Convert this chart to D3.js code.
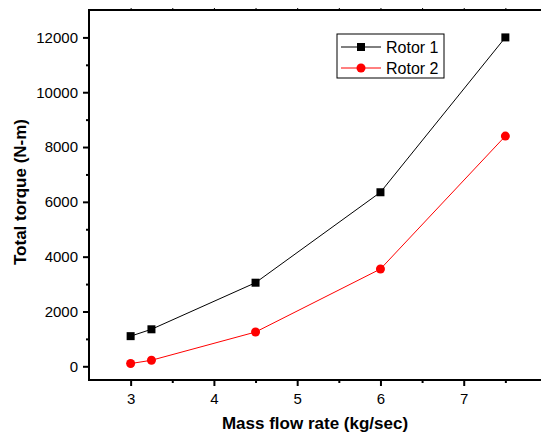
<!DOCTYPE html>
<html>
<head>
<meta charset="utf-8">
<script src="https://cdn.jsdelivr.net/npm/d3@7"></script>
<style>
  body { margin: 0; background: #fff; }
  svg text { font-family: "Liberation Sans", Arial, sans-serif; }
</style>
</head>
<body>
<svg id="chart" width="541" height="437"></svg>
<script>
// data
var flowRate = [3, 3.25, 4.5, 6, 7.5]
var rotor1 = [1100, 1350, 3050, 6350, 12000]
var rotor2 = [100, 220, 1250, 3550, 8400]
var xTicks = [3, 4, 5, 6, 7]
var yTicks = [0, 2000, 4000, 6000, 8000, 10000, 12000]

var svg = d3.select("#chart")
var plotLeft = 89, plotTop = 10, plotBottom = 380, plotRight = 547

var x = d3.scaleLinear().domain([2.5, 8]).range([plotLeft, plotRight])
var y = d3.scaleLinear().domain([-500, 13000]).range([plotBottom, plotTop])

// frame: left, bottom and top lines
svg.append("path")
    .attr("d", "M" + plotRight + "," + plotTop + "H" + plotLeft + "V" + plotBottom + "H" + plotRight)
    .attr("fill", "none")
    .attr("stroke", "#000")
    .attr("stroke-width", 2)

// y axis
var yAxis = svg.append("g")
    .attr("transform", "translate(" + plotLeft + ",0)")
    .call(d3.axisLeft(y).tickValues(yTicks).tickSize(6).tickPadding(5).tickFormat(d3.format("d")))
yAxis.select(".domain").remove()
yAxis.selectAll("line").attr("stroke-width", 2)
yAxis.selectAll("text").attr("font-size", 15).attr("fill", "#000")
    .style("font-family", "Liberation Sans, Arial, sans-serif")

svg.append("g")
    .attr("transform", "translate(" + plotLeft + ",0)")
    .call(d3.axisLeft(y).tickValues(d3.range(1000, 13000, 2000)).tickSize(3).tickFormat(""))
    .call(g => g.select(".domain").remove())
    .selectAll("line").attr("stroke-width", 2)

// x axis
var xAxis = svg.append("g")
    .attr("transform", "translate(0," + plotBottom + ")")
    .call(d3.axisBottom(x).tickValues(xTicks).tickSize(6).tickPadding(7).tickFormat(d3.format("d")))
xAxis.select(".domain").remove()
xAxis.selectAll("line").attr("stroke-width", 2)
xAxis.selectAll("text").attr("font-size", 15).attr("fill", "#000")
    .style("font-family", "Liberation Sans, Arial, sans-serif")

svg.append("g")
    .attr("transform", "translate(0," + plotBottom + ")")
    .call(d3.axisBottom(x).tickValues([3.5, 4.5, 5.5, 6.5, 7.5]).tickSize(3).tickFormat(""))
    .call(g => g.select(".domain").remove())
    .selectAll("line").attr("stroke-width", 2)

// small ticks on the top line
svg.append("g")
    .attr("transform", "translate(0," + plotTop + ")")
    .call(d3.axisTop(x).tickValues([3, 3.5, 4, 4.5, 5, 5.5, 6, 6.5, 7, 7.5]).tickSize(2).tickFormat(""))
    .call(g => g.select(".domain").remove())
    .selectAll("line").attr("stroke-width", 1)

// axis titles
svg.append("text")
    .attr("x", (plotLeft + 541) / 2)
    .attr("y", 429)
    .attr("text-anchor", "middle")
    .attr("font-size", 17)
    .attr("font-weight", "bold")
    .text("Mass flow rate (kg/sec)")

svg.append("text")
    .attr("transform", "translate(26,192) rotate(-90)")
    .attr("text-anchor", "middle")
    .attr("font-size", 17)
    .attr("font-weight", "bold")
    .text("Total torque (N-m)")

// lines and markers
var line = d3.line()
    .x((d, i) => x(flowRate[i]))
    .y(d => y(d))

svg.append("path")
    .datum(rotor1)
    .attr("d", line)
    .attr("fill", "none")
    .attr("stroke", "#000")
    .attr("stroke-width", 1)

svg.append("path")
    .datum(rotor2)
    .attr("d", line)
    .attr("fill", "none")
    .attr("stroke", "#ff0000")
    .attr("stroke-width", 1)

svg.selectAll("rect.r1")
    .data(rotor1)
    .enter().append("rect")
    .attr("class", "r1")
    .attr("x", (d, i) => x(flowRate[i]) - 4)
    .attr("y", d => y(d) - 4)
    .attr("width", 8)
    .attr("height", 8)
    .attr("fill", "#000")

svg.selectAll("circle.r2")
    .data(rotor2)
    .enter().append("circle")
    .attr("class", "r2")
    .attr("cx", (d, i) => x(flowRate[i]))
    .attr("cy", d => y(d))
    .attr("r", 4.5)
    .attr("fill", "#ff0000")

// legend
var legend = svg.append("g").attr("transform", "translate(337,34)")
legend.append("rect")
    .attr("width", 107)
    .attr("height", 44)
    .attr("fill", "#fff")
    .attr("stroke", "#000")
    .attr("stroke-width", 1)

legend.append("line").attr("x1", 4).attr("x2", 44).attr("y1", 13).attr("y2", 13).attr("stroke", "#000")
legend.append("rect").attr("x", 20).attr("y", 9).attr("width", 8).attr("height", 8).attr("fill", "#000")
legend.append("text").attr("x", 49).attr("y", 19).attr("font-size", 16).text("Rotor 1")

legend.append("line").attr("x1", 4).attr("x2", 44).attr("y1", 34).attr("y2", 34).attr("stroke", "#ff0000")
legend.append("circle").attr("cx", 24).attr("cy", 34).attr("r", 4.5).attr("fill", "#ff0000")
legend.append("text").attr("x", 49).attr("y", 40).attr("font-size", 16).text("Rotor 2")
</script>
</body>
</html>
